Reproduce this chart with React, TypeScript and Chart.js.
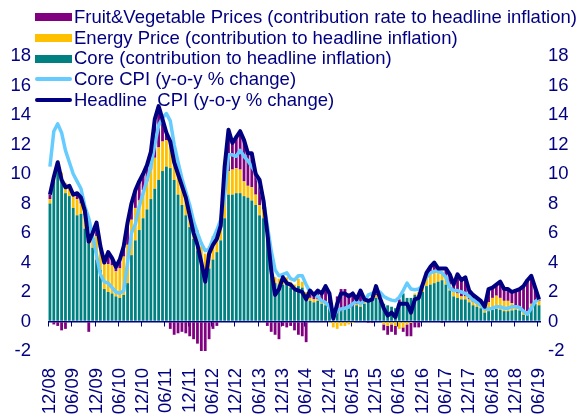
import React, { useEffect, useRef } from 'react';
import { Chart, registerables } from 'chart.js';

Chart.register(...registerables);

const NAVY = '#000080';
const TEAL = '#008080';
const YELLOW = '#FFC000';
const PURPLE = '#800080';
const LIGHTBLUE = '#66CCFF';
const FONT = 'Liberation Sans, Arial, sans-serif';

const tickLabels = [
  '12/08', '06/09', '12/09', '06/10', '12/10', '06/11', '12/11', '06/12', '12/12', '06/13', '12/13',
  '06/14', '12/14', '06/15', '12/15', '06/16', '12/16', '06/17', '12/17', '06/18', '12/18', '06/19',
];

// monthly categories 12/08 .. 06/19
const categories: string[] = [];
for (let i = 0; i < 127; i++) {
  const m = ((11 + i) % 12) + 1;
  const y = 8 + Math.floor((11 + i) / 12);
  categories.push(String(m).padStart(2, '0') + '/' + String(y).padStart(2, '0'));
}

const headlineCPI = [
  8.6, 9.8, 10.8, 9.6, 9.1, 9.2, 8.6, 8.7, 8.4, 7.5,
  5.4, 6.0, 6.7, 5.1, 4.0, 4.7, 4.3, 3.7, 4.2, 5.1,
  6.7, 8.0, 8.9, 9.5, 10.0, 10.6, 11.5, 13.7, 14.6, 13.7,
  12.8, 12.2, 10.8, 10.0, 9.2, 8.4, 7.2, 6.0, 5.2, 4.0,
  2.7, 4.6, 5.2, 5.6, 6.5, 10.5, 13.0, 12.1, 12.5, 12.9,
  12.3, 11.4, 11.4, 10.0, 9.6, 8.2, 6.0, 3.5, 1.8, 2.2,
  3.0, 2.6, 2.5, 2.2, 2.1, 2.0, 1.5, 2.1, 1.8, 2.1,
  1.9, 2.4, 1.9, 0.2, 1.2, 1.9, 1.9, 1.7, 1.9, 1.5,
  2.1, 1.5, 1.4, 1.5, 2.4, 1.6, 0.9, 0.4, 0.6, 0.3,
  1.2, 1.2, 1.2, 0.6, 1.5, 1.6, 2.5, 3.3, 3.7, 4.0,
  3.6, 3.6, 3.6, 3.2, 2.5, 3.2, 2.8, 3.0, 2.1, 1.8,
  1.6, 1.4, 1.0, 2.2, 2.3, 2.5, 2.7, 2.2, 2.2, 2.0,
  2.1, 2.2, 2.4, 2.8, 3.1, 2.3, 1.5,
];

const coreCPI = [
  10.5, 12.9, 13.4, 12.8, 11.6, 10.8, 10.0, 9.5, 9.0, 7.8,
  7.0, 5.8, 4.5, 3.2, 2.7, 2.6, 2.3, 2.0, 1.9, 2.1,
  4.0, 6.0, 6.6, 7.8, 8.7, 9.6, 10.5, 12.0, 13.3, 13.8,
  14.1, 13.6, 12.0, 10.8, 9.7, 8.8, 7.9, 6.8, 6.0, 5.3,
  4.8, 4.9, 5.6, 6.2, 6.9, 8.5, 11.3, 11.3, 11.2, 11.6,
  11.2, 10.9, 10.5, 10.1, 9.4, 8.2, 6.5, 4.8, 3.5, 3.1,
  3.2, 3.3, 2.9, 2.8, 3.1, 3.1, 2.5, 2.0, 1.8, 1.7,
  1.4, 1.3, 1.0, 0.3, 0.75, 0.85, 0.9, 1.0, 1.2, 1.4,
  1.2, 1.4, 1.8, 1.9, 2.0, 2.0, 1.7, 1.55, 1.45, 1.4,
  1.65, 2.1, 2.6, 2.2, 2.15, 2.2, 2.45, 3.0, 3.3, 3.4,
  3.4, 3.3, 3.0, 2.3, 2.1, 2.1, 2.0, 1.9, 1.7, 1.45,
  1.3, 1.1, 0.85, 0.85, 0.9, 1.0, 1.0, 0.9, 0.9, 1.0,
  1.0, 0.95, 0.7, 0.5, 0.9, 1.35, 1.55,
];

const coreContribution = [
  8.0, 9.5, 10.2, 9.5, 8.7, 8.5, 7.7, 7.2, 7.3, 6.3,
  5.3, 5.0, 4.2, 3.5, 2.2, 2.0, 1.9, 1.7, 1.6, 1.8,
  2.6, 4.5, 5.5, 6.2, 7.0, 7.6, 8.3, 9.0, 9.6, 10.2,
  10.5, 10.4, 9.6, 8.6, 7.9, 7.2, 6.4, 5.6, 4.8, 3.8,
  3.2, 3.6, 4.2, 4.7, 5.5, 7.0, 8.6, 8.6, 8.7, 8.7,
  8.5, 8.4, 8.2, 7.9, 7.2, 7.0, 5.6, 3.8, 2.6, 2.5,
  2.5, 2.6, 2.3, 2.1, 2.4, 2.3, 1.7, 1.4, 1.3, 1.4,
  1.2, 1.1, 0.9, 0.4, 0.6, 0.7, 0.8, 0.9, 1.0, 1.1,
  1.0, 1.2, 1.4, 1.5, 1.6, 1.4, 1.2, 1.1, 1.0, 0.9,
  1.2, 1.9, 1.6, 1.6, 1.8, 1.8, 2.0, 2.4, 2.5, 2.6,
  2.7, 2.8, 2.5, 2.1, 1.7, 1.6, 1.5, 1.5, 1.3, 1.1,
  1.0, 0.9, 0.6, 0.7, 0.8, 0.85, 0.8, 0.7, 0.7, 0.75,
  0.8, 0.75, 0.45, 0.5, 0.9, 1.2, 1.1,
];

const energyContribution = [
  0.3, 0.4, 0.7, 0.6, 0.7, 0.6, 0.8, 1.1, 0.7, 0.9,
  0.5, 1.0, 1.6, 1.4, 1.7, 1.9, 1.9, 1.7, 2.0, 2.6,
  2.6, 2.4, 2.2, 2.0, 1.9, 1.9, 2.0, 2.1, 2.2, 2.0,
  1.8, 1.8, 1.7, 1.8, 1.7, 1.6, 1.5, 1.3, 1.4, 1.3,
  1.4, 1.5, 1.6, 1.4, 1.3, 1.5, 1.6, 1.7, 1.7, 1.6,
  1.0, 0.8, 0.9, 0.7, 0.7, 0.6, 0.5, 0.5, 0.4, 0.4,
  0.5, 0.4, 0.4, 0.4, 0.5, 0.4, 0.3, 0.2, 0.2, 0.1,
  0.1, 0.1, -0.1, -0.4, -0.5, -0.3, -0.3, -0.2, -0.1, 0.1,
  0.2, 0.2, 0.1, 0.1, 0.2, 0.1, -0.2, -0.3, -0.2, -0.3,
  -0.5, -0.4, -0.2, -0.1, 0.1, 0.2, 0.4, 0.6, 0.7, 0.8,
  0.7, 0.6, 0.5, 0.4, 0.3, 0.3, 0.2, 0.2, 0.2, 0.2,
  0.2, 0.2, 0.3, 0.6, 0.8, 0.9, 0.8, 0.7, 0.7, 0.5,
  0.3, 0.2, 0.2, 0.2, 0.3, 0.2, 0.3,
];

const fruitVegContribution = [
  0.3, -0.2, -0.3, -0.6, -0.5, 0.1, 0.1, 0.4, 0.4, 0.3,
  -0.7, 0.0, 0.9, 0.2, 0.1, 0.8, 0.5, 0.3, 0.6, 0.7,
  1.5, 1.1, 1.2, 1.3, 1.1, 1.1, 1.2, 2.6, 2.8, 1.5,
  0.5, -0.5, -0.9, -0.8, -0.7, -0.8, -1.0, -1.2, -1.5, -2.1,
  -2.1, -1.2, -0.5, -0.3, 0.2, 1.0, 2.8, 1.8, 2.2, 2.6,
  2.8, 2.2, 2.3, 1.4, 1.7, 0.6, -0.3, -0.7, -0.9, -1.2,
  -0.3, -0.4, -0.3, -0.6, -0.9, -1.0, -1.4, 0.5, 0.3, 0.6,
  0.6, 1.2, 1.0, 0.1, 1.1, 1.5, 1.4, 1.0, 1.0, 0.3,
  0.9, 0.1, -0.1, -0.1, 0.6, 0.1, -0.4, -0.6, -0.5, -0.6,
  0.3, -0.3, -0.8, -0.9, -0.4, -0.4, 0.1, 0.3, 0.5, 0.6,
  0.2, -0.1, 0.6, 0.7, 0.5, 1.3, 1.1, 1.3, 0.6, 0.5,
  0.4, 0.3, 0.1, 0.9, 0.7, 0.75, 1.1, 0.8, 0.8, 0.75,
  1.0, 1.25, 1.75, 2.1, 1.9, 0.9, 0.1,
];

const legendItems = [
  { label: 'Fruit&Vegetable Prices (contribution rate to headline inflation)', color: PURPLE, kind: 'box' },
  { label: 'Energy Price (contribution to headline inflation)', color: YELLOW, kind: 'box' },
  { label: 'Core (contribution to headline inflation)', color: TEAL, kind: 'box' },
  { label: 'Core CPI (y-o-y % change)', color: LIGHTBLUE, kind: 'line' },
  { label: 'Headline  CPI (y-o-y % change)', color: NAVY, kind: 'line' },
];

const zeroAxisTicks = {
  id: 'zeroAxisTicks',
  beforeDatasetsDraw(chart: any) {
    const xs = chart.scales.x;
    const ys = chart.scales.y;
    const c = chart.ctx;
    const y0 = ys.getPixelForValue(0);
    const half = (xs.getPixelForValue(1) - xs.getPixelForValue(0)) / 2;
    c.save();
    c.strokeStyle = NAVY;
    c.lineWidth = 1;
    for (let i = 0; i < categories.length; i += 6) {
      const px = Math.round(xs.getPixelForValue(i) - half) + 0.5;
      c.beginPath();
      c.moveTo(px, y0);
      c.lineTo(px, y0 + 5);
      c.stroke();
    }
    c.restore();
  },
};

export default function App() {
  const canvasRef = useRef<HTMLCanvasElement>(null);

  useEffect(() => {
    document.body.style.margin = '0';
    const canvas = canvasRef.current;
    if (!canvas) return;
    const tickFont = { family: FONT, size: 18.5 };
    const chart = new Chart(canvas, {
      type: 'bar',
      data: {
        labels: categories,
        datasets: [
          {
            type: 'line',
            label: 'Headline CPI (y-o-y % change)',
            data: headlineCPI,
            yAxisID: 'y2',
            borderColor: NAVY,
            borderWidth: 4,
            pointRadius: 0,
            tension: 0,
            borderJoinStyle: 'round',
            order: 0,
          } as any,
          {
            type: 'line',
            label: 'Core CPI (y-o-y % change)',
            data: coreCPI,
            yAxisID: 'y2',
            borderColor: LIGHTBLUE,
            borderWidth: 3.5,
            pointRadius: 0,
            tension: 0,
            borderJoinStyle: 'round',
            order: 1,
          } as any,
          {
            type: 'bar',
            label: 'Core (contribution to headline inflation)',
            data: coreContribution,
            backgroundColor: TEAL,
            yAxisID: 'y',
            stack: 'c',
            barPercentage: 0.72,
            categoryPercentage: 1,
            order: 2,
          },
          {
            type: 'bar',
            label: 'Energy Price (contribution to headline inflation)',
            data: energyContribution,
            backgroundColor: YELLOW,
            yAxisID: 'y',
            stack: 'c',
            barPercentage: 0.72,
            categoryPercentage: 1,
            order: 3,
          },
          {
            type: 'bar',
            label: 'Fruit&Vegetable Prices (contribution rate to headline inflation)',
            data: fruitVegContribution,
            backgroundColor: PURPLE,
            yAxisID: 'y',
            stack: 'c',
            barPercentage: 0.72,
            categoryPercentage: 1,
            order: 4,
          },
        ],
      },
      options: {
        responsive: false,
        animation: false,
        layout: { padding: { top: 56, left: 0, right: 0, bottom: 0 } },
        plugins: {
          legend: { display: false },
          tooltip: { enabled: false },
        },
        scales: {
          x: {
            type: 'category',
            stacked: true,
            offset: true,
            grid: { display: false, offset: true },
            border: { display: false },
            ticks: {
              autoSkip: false,
              minRotation: 90,
              maxRotation: 90,
              padding: 9,
              color: NAVY,
              font: tickFont,
              callback: (_v: any, idx: number) => (idx % 6 === 0 ? tickLabels[idx / 6] : ''),
            },
            afterFit: (s: any) => {
              s.height = 68;
            },
          },
          y: {
            position: 'left',
            stacked: true,
            min: -2,
            max: 18,
            border: { display: false },
            grid: {
              display: true,
              drawTicks: false,
              color: (c: any) => (c.tick && c.tick.value === 0 ? NAVY : 'rgba(0,0,0,0)'),
              lineWidth: (c: any) => (c.tick && c.tick.value === 0 ? 1.5 : 0),
            },
            ticks: { stepSize: 2, padding: 17, color: NAVY, font: tickFont },
            afterFit: (s: any) => {
              s.width = 48;
            },
          },
          y2: {
            position: 'right',
            min: -2,
            max: 18,
            border: { display: false },
            grid: { display: false, drawTicks: false },
            ticks: { stepSize: 2, padding: 7, color: NAVY, font: tickFont },
            afterFit: (s: any) => {
              s.width = 40;
            },
          },
        },
      },
      plugins: [zeroAxisTicks],
    } as any);
    return () => chart.destroy();
  }, []);

  return (
    <div style={{ position: 'relative', width: 581, height: 419, background: '#fff' }}>
      <canvas ref={canvasRef} width={581} height={419} style={{ display: 'block', width: 581, height: 419 }} />
      <div
        style={{
          position: 'absolute',
          left: 35,
          top: 7,
          pointerEvents: 'none',
          fontFamily: FONT,
          fontSize: 18.5,
          color: NAVY,
        }}
      >
        {legendItems.map((it) => (
          <div key={it.label} style={{ display: 'flex', alignItems: 'center', height: 20.7, whiteSpace: 'pre' }}>
            <div
              style={{
                width: 37,
                height: it.kind === 'box' ? 8 : 4,
                background: it.color,
                borderRadius: it.kind === 'line' ? 2 : 0,
                marginRight: 2,
                flex: 'none',
              }}
            />
            <span style={{ lineHeight: '20.7px' }}>{it.label}</span>
          </div>
        ))}
      </div>
    </div>
  );
}
